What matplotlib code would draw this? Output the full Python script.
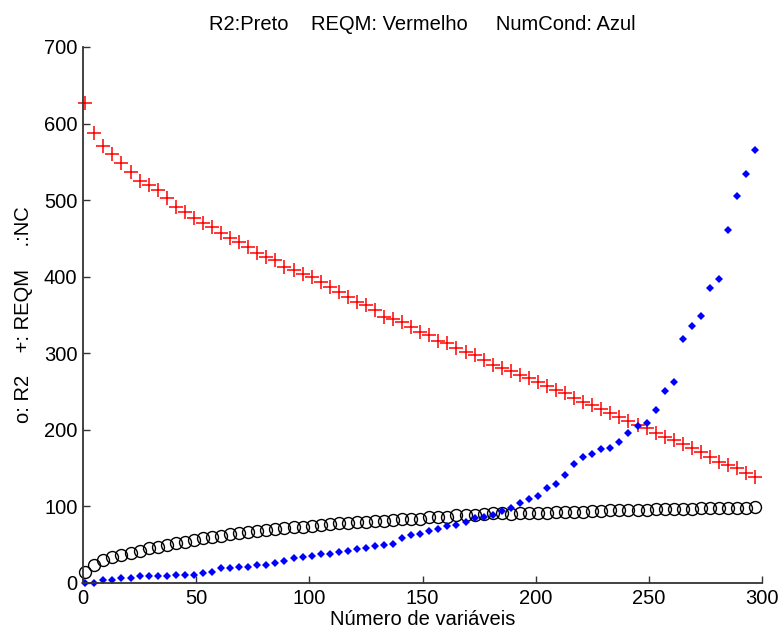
import numpy as np
import matplotlib.pyplot as plt

plt.rcParams['font.family'] = ['Liberation Sans', 'DejaVu Sans']

# number of variables (x = 1, 5, 9, ..., 297)
n_vars = list(range(1, 298, 4))

# R2 (black circles)
r2 = [14.8, 23.5, 30, 33.5, 36.6, 39.6, 42.2, 45.3, 47.4, 49.6,
      52.6, 53.9, 56.1, 58.3, 60.5, 61.4, 64, 64.9, 67, 67.9,
      69.2, 70.5, 71.4, 72.7, 73.5, 74.8, 75.7, 76.6, 77.9, 78.7,
      79.2, 80, 81, 81.4, 82.3, 83, 83.2,
      83.5, 85.8, 86.6, 86.6, 88.8, 88.8, 88.8, 90, 91, 91,
      90.5, 91, 92, 92, 92, 92.5, 93, 93, 93, 93.5,
      94, 95, 95, 95, 95, 95.5, 96, 96, 97, 97,
      97, 97.5, 97.5, 97.5, 98, 98, 98, 99.5]

# REQM (red plus)
reqm = [626.5, 587.3, 570.7, 559.9, 548.1, 537.2, 525.4, 519.8, 513.3, 502.4,
        491.5, 485, 476.3, 469.8, 464.5, 456.7, 450.2, 445.8, 439.2, 430.6,
        426.2, 421.8, 413.1, 408.8, 403.6, 399.2, 393.5, 387, 380.5, 374,
        367.4, 363.1, 356.5, 347.8, 344.4, 341.3, 333.9,
        327.4, 323.9, 316.5, 313, 307.3, 302.1, 297.8, 291.2, 284.7, 280.4,
        276.9, 271.6, 267.3, 262.9, 257.3, 252.1, 247.7, 241.2, 236.8, 232.5,
        226.8, 221.6, 217.2, 212, 206.3, 202, 195.5, 191.1, 186.8, 181.5,
        175.9, 171.5, 165, 158.4, 154.1, 149.8, 144.1, 138]

# NumCond (blue dots)
numcond = [0, 0, 4, 4, 7, 7, 9, 9, 9, 9,
           11, 11, 11, 13.5, 14, 19, 20, 21, 21, 23.5,
           23.5, 25.7, 28.7, 32, 33.5, 35.7, 37.9, 37.9, 40.9, 42.2,
           44.4, 46, 48.3, 49.6, 51, 58.3, 62.7,
           64, 68.3, 70, 74.4, 76, 80, 85, 86.6, 89, 94,
           97.5, 104, 109.7, 113.6, 123.6, 129, 141.5, 156, 164.5, 169,
           175, 176, 183.7, 195.5, 205.5, 209.5, 225.5, 250.5, 263, 318,
           336, 349, 385, 397, 461, 505, 534.5, 565]

fs = 14.5

fig = plt.figure(figsize=(7.81, 6.35), dpi=100)
ax = fig.add_axes([0.1063, 0.0819, 0.8694, 0.8441])

ax.plot(n_vars, r2, 'o', color='black', mfc='none', ms=8.6, mew=1.0,
        clip_on=False)
ax.plot(n_vars, reqm, '+', color='red', ms=10, mew=1.1, clip_on=False)
ax.plot(n_vars, numcond, 'D', color='blue', ms=4.4, mew=0, clip_on=False)

ax.set_xlim(0, 300)
ax.set_ylim(0, 700)
ax.set_xticks(range(0, 301, 50))
ax.set_yticks(range(0, 701, 100))

for side in ['top', 'right']:
    ax.spines[side].set_visible(False)
for side in ['left', 'bottom']:
    ax.spines[side].set_color('#333333')
    ax.spines[side].set_linewidth(1.3)
ax.tick_params(direction='in', length=5, width=1.0, color='#333333',
               labelsize=fs, pad=4)

ax.set_title('R2:Preto    REQM: Vermelho     NumCond: Azul', fontsize=fs,
             pad=12)
ax.set_xlabel('Número de variáveis', fontsize=fs, labelpad=2)
ax.set_ylabel('o: R2    +: REQM    .:NC', fontsize=fs, labelpad=8)

fig.savefig('out.png', dpi=100)
